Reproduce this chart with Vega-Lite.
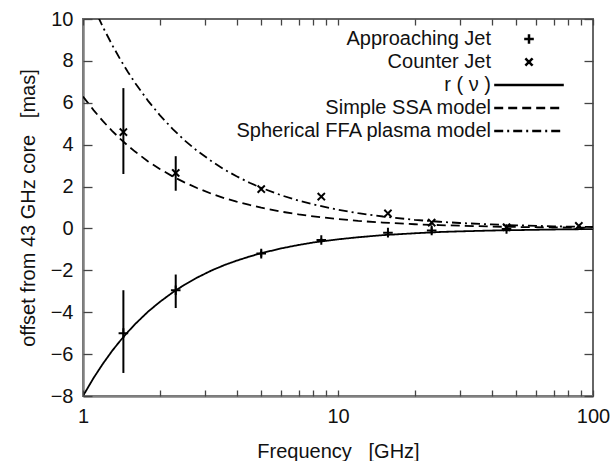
{
  "$schema": "https://vega.github.io/schema/vega-lite/v6.json",
  "width": 510,
  "height": 377,
  "autosize": "none",
  "padding": {"left": 83, "top": 19, "right": 23, "bottom": 65},
  "background": "white",
  "config": {
    "font": "Liberation Sans",
    "view": {"stroke": "#666", "strokeWidth": 2},
    "axis": {
      "grid": false,
      "labelFont": "Liberation Sans",
      "labelFontSize": 20,
      "labelColor": "#111",
      "titleFont": "Liberation Sans",
      "titleFontSize": 20,
      "titleFontWeight": "normal",
      "titleColor": "#111",
      "domainColor": "#808080",
      "domainWidth": 2.5
    },
    "legend": {
      "labelFont": "Liberation Sans",
      "labelFontSize": 20,
      "labelColor": "#111",
      "labelLimit": 400
    }
  },
  "datasets": {
    "curves": [
      {"series": "r ( ν )", "freq": 1, "value": -8},
      {"series": "r ( ν )", "freq": 1.1, "value": -7.14},
      {"series": "r ( ν )", "freq": 1.2, "value": -6.44},
      {"series": "r ( ν )", "freq": 1.3, "value": -5.85},
      {"series": "r ( ν )", "freq": 1.4, "value": -5.36},
      {"series": "r ( ν )", "freq": 1.5, "value": -4.94},
      {"series": "r ( ν )", "freq": 1.6, "value": -4.57},
      {"series": "r ( ν )", "freq": 1.8, "value": -3.97},
      {"series": "r ( ν )", "freq": 2, "value": -3.51},
      {"series": "r ( ν )", "freq": 2.25, "value": -3.05},
      {"series": "r ( ν )", "freq": 2.5, "value": -2.69},
      {"series": "r ( ν )", "freq": 2.8, "value": -2.35},
      {"series": "r ( ν )", "freq": 3.2, "value": -2.0},
      {"series": "r ( ν )", "freq": 3.6, "value": -1.74},
      {"series": "r ( ν )", "freq": 4, "value": -1.54},
      {"series": "r ( ν )", "freq": 4.5, "value": -1.34},
      {"series": "r ( ν )", "freq": 5, "value": -1.18},
      {"series": "r ( ν )", "freq": 6, "value": -0.95},
      {"series": "r ( ν )", "freq": 7, "value": -0.79},
      {"series": "r ( ν )", "freq": 8, "value": -0.67},
      {"series": "r ( ν )", "freq": 10, "value": -0.52},
      {"series": "r ( ν )", "freq": 12, "value": -0.42},
      {"series": "r ( ν )", "freq": 15, "value": -0.32},
      {"series": "r ( ν )", "freq": 20, "value": -0.23},
      {"series": "r ( ν )", "freq": 25, "value": -0.17},
      {"series": "r ( ν )", "freq": 30, "value": -0.14},
      {"series": "r ( ν )", "freq": 40, "value": -0.1},
      {"series": "r ( ν )", "freq": 50, "value": -0.08},
      {"series": "r ( ν )", "freq": 70, "value": -0.05},
      {"series": "r ( ν )", "freq": 100, "value": -0.03},
      {"series": "Simple SSA model", "freq": 1, "value": 6.3},
      {"series": "Simple SSA model", "freq": 1.1, "value": 5.65},
      {"series": "Simple SSA model", "freq": 1.2, "value": 5.11},
      {"series": "Simple SSA model", "freq": 1.3, "value": 4.66},
      {"series": "Simple SSA model", "freq": 1.4, "value": 4.28},
      {"series": "Simple SSA model", "freq": 1.5, "value": 3.95},
      {"series": "Simple SSA model", "freq": 1.6, "value": 3.67},
      {"series": "Simple SSA model", "freq": 1.8, "value": 3.2},
      {"series": "Simple SSA model", "freq": 2, "value": 2.84},
      {"series": "Simple SSA model", "freq": 2.25, "value": 2.48},
      {"series": "Simple SSA model", "freq": 2.5, "value": 2.2},
      {"series": "Simple SSA model", "freq": 2.8, "value": 1.93},
      {"series": "Simple SSA model", "freq": 3.2, "value": 1.65},
      {"series": "Simple SSA model", "freq": 3.6, "value": 1.44},
      {"series": "Simple SSA model", "freq": 4, "value": 1.28},
      {"series": "Simple SSA model", "freq": 4.5, "value": 1.12},
      {"series": "Simple SSA model", "freq": 5, "value": 0.99},
      {"series": "Simple SSA model", "freq": 6, "value": 0.8},
      {"series": "Simple SSA model", "freq": 7, "value": 0.67},
      {"series": "Simple SSA model", "freq": 8, "value": 0.58},
      {"series": "Simple SSA model", "freq": 10, "value": 0.45},
      {"series": "Simple SSA model", "freq": 12, "value": 0.36},
      {"series": "Simple SSA model", "freq": 15, "value": 0.28},
      {"series": "Simple SSA model", "freq": 20, "value": 0.2},
      {"series": "Simple SSA model", "freq": 25, "value": 0.16},
      {"series": "Simple SSA model", "freq": 30, "value": 0.13},
      {"series": "Simple SSA model", "freq": 40, "value": 0.09},
      {"series": "Simple SSA model", "freq": 50, "value": 0.07},
      {"series": "Simple SSA model", "freq": 70, "value": 0.05},
      {"series": "Simple SSA model", "freq": 100, "value": 0.03},
      {"series": "Spherical FFA plasma model", "freq": 1, "value": 11.76},
      {"series": "Spherical FFA plasma model", "freq": 1.1, "value": 10.57},
      {"series": "Spherical FFA plasma model", "freq": 1.2, "value": 9.59},
      {"series": "Spherical FFA plasma model", "freq": 1.3, "value": 8.77},
      {"series": "Spherical FFA plasma model", "freq": 1.4, "value": 8.07},
      {"series": "Spherical FFA plasma model", "freq": 1.5, "value": 7.47},
      {"series": "Spherical FFA plasma model", "freq": 1.6, "value": 6.95},
      {"series": "Spherical FFA plasma model", "freq": 1.8, "value": 6.09},
      {"series": "Spherical FFA plasma model", "freq": 2, "value": 5.41},
      {"series": "Spherical FFA plasma model", "freq": 2.25, "value": 4.74},
      {"series": "Spherical FFA plasma model", "freq": 2.5, "value": 4.21},
      {"series": "Spherical FFA plasma model", "freq": 2.8, "value": 3.71},
      {"series": "Spherical FFA plasma model", "freq": 3.2, "value": 3.2},
      {"series": "Spherical FFA plasma model", "freq": 3.6, "value": 2.8},
      {"series": "Spherical FFA plasma model", "freq": 4, "value": 2.49},
      {"series": "Spherical FFA plasma model", "freq": 4.5, "value": 2.18},
      {"series": "Spherical FFA plasma model", "freq": 5, "value": 1.94},
      {"series": "Spherical FFA plasma model", "freq": 6, "value": 1.58},
      {"series": "Spherical FFA plasma model", "freq": 7, "value": 1.33},
      {"series": "Spherical FFA plasma model", "freq": 8, "value": 1.15},
      {"series": "Spherical FFA plasma model", "freq": 10, "value": 0.89},
      {"series": "Spherical FFA plasma model", "freq": 12, "value": 0.73},
      {"series": "Spherical FFA plasma model", "freq": 15, "value": 0.57},
      {"series": "Spherical FFA plasma model", "freq": 20, "value": 0.41},
      {"series": "Spherical FFA plasma model", "freq": 25, "value": 0.32},
      {"series": "Spherical FFA plasma model", "freq": 30, "value": 0.26},
      {"series": "Spherical FFA plasma model", "freq": 40, "value": 0.19},
      {"series": "Spherical FFA plasma model", "freq": 50, "value": 0.15},
      {"series": "Spherical FFA plasma model", "freq": 70, "value": 0.1},
      {"series": "Spherical FFA plasma model", "freq": 100, "value": 0.07}
    ],
    "points": [
      {"series": "Approaching Jet", "freq": 1.44, "value": -5.0, "lo": -6.9, "hi": -2.95},
      {"series": "Approaching Jet", "freq": 2.31, "value": -2.95, "lo": -3.8, "hi": -2.2},
      {"series": "Approaching Jet", "freq": 5.0, "value": -1.2, "lo": -1.35, "hi": -1.05},
      {"series": "Approaching Jet", "freq": 8.6, "value": -0.55, "lo": -0.62, "hi": -0.48},
      {"series": "Approaching Jet", "freq": 15.7, "value": -0.2, "lo": -0.27, "hi": -0.13},
      {"series": "Approaching Jet", "freq": 23.3, "value": -0.1, "lo": -0.25, "hi": 0.05},
      {"series": "Approaching Jet", "freq": 45.8, "value": -0.03, "lo": -0.1, "hi": 0.04},
      {"series": "Counter Jet", "freq": 1.44, "value": 4.6, "lo": 2.6, "hi": 6.7},
      {"series": "Counter Jet", "freq": 2.31, "value": 2.65, "lo": 1.8, "hi": 3.45},
      {"series": "Counter Jet", "freq": 5.0, "value": 1.88},
      {"series": "Counter Jet", "freq": 8.6, "value": 1.52},
      {"series": "Counter Jet", "freq": 15.7, "value": 0.72},
      {"series": "Counter Jet", "freq": 23.3, "value": 0.28},
      {"series": "Counter Jet", "freq": 45.8, "value": 0.06},
      {"series": "Counter Jet", "freq": 88, "value": 0.12}
    ]
  },
  "resolve": {
    "scale": {"x": "independent", "y": "independent"},
    "axis": {"x": "independent", "y": "independent"}
  },
  "layer": [
    {
      "data": {"name": "curves"},
      "mark": {"type": "line", "color": "black", "strokeWidth": 1.8, "clip": true},
      "encoding": {
        "x": {
          "field": "freq", "type": "quantitative",
          "scale": {"type": "log", "domain": [1, 100], "nice": false},
          "axis": {
            "orient": "bottom",
            "title": "Frequency\u00a0\u00a0\u00a0[GHz]",
            "values": [1, 10, 100],
            "ticks": false,
            "labelPadding": 10,
            "labelFlush": false,
            "titlePadding": 15
          }
        },
        "y": {
          "field": "value", "type": "quantitative",
          "scale": {"domain": [-8, 10], "nice": false},
          "axis": {
            "orient": "left",
            "title": "offset from 43 GHz core\u00a0\u00a0\u00a0[mas]",
            "values": [-8, -6, -4, -2, 0, 2, 4, 6, 8, 10],
            "ticks": false,
            "labelPadding": 10,
            "labelFlush": false,
            "titlePadding": 12
          }
        },
        "strokeDash": {
          "field": "series", "type": "nominal",
          "scale": {
            "domain": ["Approaching Jet", "Counter Jet", "r ( ν )", "Simple SSA model", "Spherical FFA plasma model"],
            "range": [[1, 0], [1, 0], [1, 0], [9, 5], [9, 4, 2, 4]]
          },
          "legend": {
            "title": null,
            "orient": "none",
            "legendX": 436,
            "legendY": 10,
            "labelAlign": "right",
            "labelOffset": -48,
            "symbolSize": 144,
            "symbolStrokeWidth": 2.5,
            "symbolStrokeColor": "black",
            "rowPadding": 3
          }
        }
      }
    },
    {
      "data": {"name": "points"},
      "transform": [{"filter": "isValid(datum.lo)"}],
      "mark": {"type": "rule", "color": "black", "strokeWidth": 2},
      "encoding": {
        "x": {
          "field": "freq", "type": "quantitative",
          "scale": {"type": "log", "domain": [1, 100], "nice": false},
          "axis": {
            "orient": "top", "offset": -377, "title": null, "labels": false, "domain": false,
            "zindex": 2, "tickSize": 6, "tickColor": "#444", "tickWidth": 1.3
          }
        },
        "y": {
          "field": "lo", "type": "quantitative",
          "scale": {"domain": [-8, 10], "nice": false},
          "axis": {
            "orient": "right", "offset": -510, "title": null, "labels": false, "domain": false,
            "zindex": 2, "tickCount": 9, "tickSize": 9, "tickColor": "#444", "tickWidth": 1.3
          }
        },
        "y2": {"field": "hi"}
      }
    },
    {
      "data": {"name": "points"},
      "mark": {"type": "point", "filled": false, "color": "black", "size": 144, "strokeWidth": 2, "opacity": 1},
      "encoding": {
        "x": {
          "field": "freq", "type": "quantitative",
          "scale": {"type": "log", "domain": [1, 100], "nice": false},
          "axis": {
            "orient": "bottom", "offset": -377, "title": null, "labels": false, "domain": false,
            "zindex": 2, "tickSize": 6, "tickColor": "#444", "tickWidth": 1.3
          }
        },
        "y": {
          "field": "value", "type": "quantitative",
          "scale": {"domain": [-8, 10], "nice": false},
          "axis": {
            "orient": "left", "offset": -510, "title": null, "labels": false, "domain": false,
            "zindex": 2, "tickCount": 9, "tickSize": 9, "tickColor": "#444", "tickWidth": 1.3
          }
        },
        "shape": {
          "field": "series", "type": "nominal",
          "scale": {
            "domain": ["Approaching Jet", "Counter Jet", "r ( ν )", "Simple SSA model", "Spherical FFA plasma model"],
            "range": ["M-0.8,0L0.8,0M0,-0.8L0,0.8", "M-0.6,-0.6L0.6,0.6M-0.6,0.6L0.6,-0.6", "M-5.8,0L5.8,0", "M-5.8,0L5.8,0", "M-5.8,0L5.8,0"]
          },
          "legend": {
            "title": null,
            "orient": "none",
            "legendX": 436,
            "legendY": 10,
            "labelAlign": "right",
            "labelOffset": -48,
            "symbolSize": 144,
            "symbolStrokeWidth": 2.5,
            "symbolStrokeColor": "black",
            "rowPadding": 3
          }
        },
        "strokeDash": {
          "field": "series", "type": "nominal"
        }
      }
    }
  ]
}
